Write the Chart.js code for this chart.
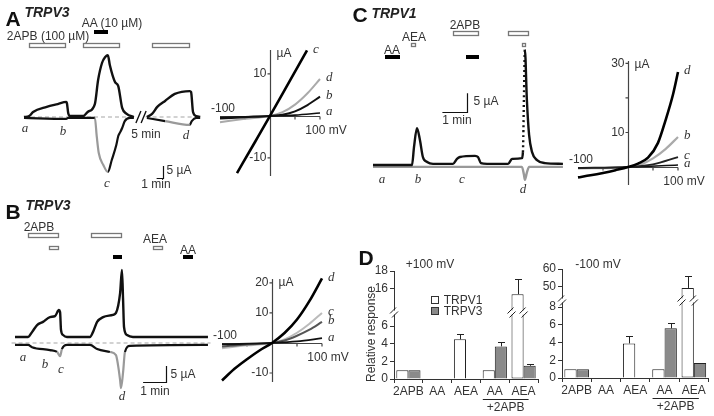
<!DOCTYPE html>
<html>
<head>
<meta charset="utf-8">
<script src="https://cdn.jsdelivr.net/npm/chart.js@4"></script>
<style>
  body { margin: 0; width: 714px; height: 416px; overflow: hidden; position: relative; background: #fff;
         font-family: "Liberation Sans", Arial, sans-serif; color: #333; }
  canvas { position: absolute; }
  .t { position: absolute; white-space: nowrap; transform: translate(-50%, -50%); font-size: 12px; line-height: 1; }
  .L { font-weight: bold; font-size: 21px; color: #111; }
  .n { font-weight: bold; font-style: italic; font-size: 14px; color: #222; }
  .s { font-family: "Liberation Serif", serif; font-style: italic; font-size: 13px; }
</style>
</head>
<body>
<script>
// ---- panel A: TRPV3 trace, [min, µA] at +100 mV (up) and -100 mV (lo)
const traceA_up = [[0,0],[0.8,0.4],[1.4,2.1],[3.5,4.2],[5.2,5.4],[6.5,6.3],[6.6,5.8],[6.8,1.7],[7.1,0.4],[9.1,0.4],[9.8,2.1],[10.9,5.4],[11.4,15.4],[12.0,22.5],[12.5,25.0],[12.9,25.8],[13.2,21.7],[14.0,14.6],[14.5,12.9],[15.1,3.8],[15.8,1.3],[16.9,0],[17.6,null],[18.9,0],[19.7,1.3],[20.5,4.2],[21.7,6.7],[23.2,9.6],[25.5,10.8],[25.7,10.4],[26.0,2.1],[26.5,0.4],[27.1,0]];
const traceA_lo = [[0,-0.4],[6.5,-0.8],[6.8,-0.4],[10.9,-0.4],[11.2,-8.3],[11.5,-15.0],[12.2,-20.0],[12.9,-22.9],[13.5,-17.9],[14.2,-11.7],[14.5,-7.9],[14.8,-6.3],[15.1,-4.6],[15.5,-1.7],[16.3,-0.4],[16.9,-0.4],[17.6,null],[18.9,-0.4],[21.7,-1.7],[25.5,-3.3],[25.8,-1.7],[26.5,-0.4],[27.1,-0.4]];
const zeroA = [[0,0],[17.2,0],[17.6,null],[18.7,0],[27.1,0]];
const a_2apb = [[0.8,6.5],[9.1,14.8],[19.7,25.5]];
const a_aa = [[10.8,12.9]];

// ---- panel B: TRPV3 trace
const traceB_up = [[0,1.9],[0.57,1.9],[0.74,3.4],[0.96,5.6],[1.22,6.6],[1.52,8.1],[1.74,8.4],[1.91,10.3],[1.96,9.7],[2.0,4.1],[2.09,2.5],[2.26,1.9],[3.26,1.9],[3.39,3.4],[3.57,6.6],[3.83,8.1],[4.26,8.8],[4.39,9.4],[4.57,15.6],[4.65,22.8],[4.70,13.4],[4.74,5.0],[4.87,2.5],[5.13,1.9],[8.39,1.9]];
const traceB_lo = [[0,-0.6],[0.57,-0.6],[0.74,-1.3],[1.52,-2.2],[1.83,-2.8],[1.96,-4.1],[2.04,-1.9],[2.26,-0.6],[3.26,-0.6],[3.57,-1.9],[4.13,-2.8],[4.39,-3.8],[4.48,-6.9],[4.57,-11.6],[4.61,-14.1],[4.70,-9.1],[4.78,-2.8],[5.0,-0.9],[8.39,-0.6]];
const zeroB = [[-0.15,0],[8.5,0]];
const b_2apb = [[0.57,1.91],[3.30,4.65]];
const b_aea = [[1.48,1.91],[6.0,6.43]];
const b_aa = [[4.26,4.65],[7.3,7.74]];

// ---- panel C: TRPV1 trace
const traceC_up = [[0,0],[1.58,0],[1.66,4.7],[1.78,9.7],[1.90,6.6],[2.02,2.1],[2.19,0.8],[2.43,0.3],[3.24,0.3],[3.40,1.6],[3.52,2.1],[4.13,2.4],[4.25,2.1],[4.37,0.5],[4.62,0.3],[5.47,0.3],[5.63,1.6],[6.03,1.8],[6.07,3.4],[6.11,17.1],[6.15,30.3],[6.23,17.1],[6.32,7.9],[6.44,3.4],[6.64,1.3],[6.96,0.5],[7.69,0.3]];
const traceC_lo = [[0,-0.5],[6.03,-0.5],[6.11,-2.5],[6.15,-3.9],[6.23,-2.0],[6.32,-0.5],[7.69,-0.5]];
const c_2apb = [[3.24,4.29],[5.47,6.32]];
const c_aea = [[1.54,1.74],[6.03,6.19]];
const c_aa = [[0.49,1.09],[3.77,4.29]];

// ---- I-V curves [mV, µA]
const ivXTicks = [-50, 50, 100];
const ivA_a = [[-100,-0.4],[-50,-0.2],[0,0],[50,0.2],[100,0.7]];
const ivA_b = [[-100,-0.6],[-50,-0.3],[0,0],[25,0.3],[50,1.1],[75,2.6],[100,4.6]];
const ivA_c = [[-66,-13.6],[-30,-6.2],[0,0],[30,6.3],[74,15.6]];
const ivA_d = [[-100,-1.5],[-50,-0.7],[0,0],[25,0.9],[50,2.7],[75,5.4],[100,8.8]];
const ivA_yTicks = [-10, 10];
const ivB_a = [[-100,-0.5],[0,0],[50,0.5],[100,1.6]];
const ivB_b = [[-100,-1.2],[-50,-0.5],[0,0],[25,0.8],[50,2.4],[75,4.4],[100,7]];
const ivB_c = [[-100,-1.8],[-50,-0.8],[0,0],[25,1.2],[50,3.4],[75,6.4],[100,10]];
const ivB_d = [[-100,-12.5],[-75,-8.6],[-50,-5.4],[-25,-2.5],[0,0],[25,3.3],[50,7.8],[75,14],[100,21.5]];
const ivB_yTicks = [-10, 10, 20];
const ivC_a = [[-100,-0.2],[0,0],[100,0.6]];
const ivC_b = [[-100,-0.4],[0,0],[25,0.7],[50,2.5],[75,5.2],[100,8.7]];
const ivC_c = [[-100,-0.3],[0,0],[50,0.8],[100,2.9]];
const ivC_d = [[-100,-3.0],[-75,-2.4],[-50,-1.7],[-25,-0.9],[0,0],[20,1.0],[40,2.7],[60,7],[75,13.5],[90,21],[100,27.5]];
const ivC_yTicks = [10, 20, 30];
const ivC_yLabels = ['10', '', '30'];

// ---- panel D: relative response
const dCats = ['2APB', 'AA', 'AEA', 'AA', 'AEA'];
const v1Pos = [1, 0, 4.5, 1, 15.4];
const v1PosErr = [0, 0, 0.6, 0, 1.7];
const v3Pos = [1, 0, 0, 3.7, 1.5];
const v3PosErr = [0, 0, 0, 0.5, 0.25];
const v1Neg = [1, 0, 3.9, 1, 49];
const v1NegErr = [0, 0, 0.8, 0, 7];
const v3Neg = [1, 0, 0, 5.6, 1.7];
const v3NegErr = [0, 0, 0, 0.6, 0];
const posTicksLo = [0, 2, 4, 6], posTicksHi = [16, 18];
const negTicksLo = [0, 2, 4, 6, 8], negTicksHi = [50, 60];

Chart.defaults.font.family = "'Liberation Sans', Arial, sans-serif";
Chart.defaults.font.size = 12;
Chart.defaults.color = '#333';

const pts = a => a.map(([x, y]) => ({x, y}));
const noUi = {legend: {display: false}, tooltip: {enabled: false}};
const hid = (min, max) => ({type: 'linear', min, max, display: false});

function mk(box, cfg) {
  const c = document.createElement('canvas');
  c.width = box[2]; c.height = box[3];
  c.style.left = box[0] + 'px'; c.style.top = box[1] + 'px';
  document.body.appendChild(c);
  cfg.options = Object.assign({responsive: false, animation: false, events: []}, cfg.options);
  return new Chart(c, cfg);
}

function line(data, color, w, extra) {
  return Object.assign({data: pts(data), borderColor: color, borderWidth: w, pointRadius: 0,
    spanGaps: false, cubicInterpolationMode: 'monotone'}, extra || {});
}

// drug bars, scale bar and axis break on top of a trace
function traceDeco(o) {
  return {
    id: 'deco',
    afterDatasetsDraw(ch) {
      const {ctx, scales: {x, y}} = ch;
      ctx.save();
      for (const b of o.bars) {
        for (const [t0, t1] of b.on) {
          const x0 = Math.round(x.getPixelForValue(t0)), x1 = Math.round(x.getPixelForValue(t1));
          const top = b.top - o.oy;
          if (b.solid) {
            ctx.fillStyle = '#000';
            ctx.fillRect(x0, top, x1 - x0, b.h);
          } else {
            ctx.fillStyle = '#fff';
            ctx.fillRect(x0, top, x1 - x0, b.h);
            ctx.strokeStyle = '#777'; ctx.lineWidth = 1.3;
            ctx.strokeRect(x0 + .5, top + .5, x1 - x0 - 1, b.h - 1);
          }
        }
      }
      const [st, si] = o.scale;
      const px = Math.round(x.getPixelForValue(st)) + .5, py = Math.round(y.getPixelForValue(si)) + .5;
      ctx.strokeStyle = '#111'; ctx.lineWidth = 1.2;
      ctx.beginPath();
      ctx.moveTo(x.getPixelForValue(st - 1), py);
      ctx.lineTo(px, py);
      ctx.lineTo(px, y.getPixelForValue(si + 5));
      ctx.stroke();
      if (o.brk) {
        const yb = y.getPixelForValue(0);
        ctx.lineWidth = 1.4;
        ctx.beginPath();
        o.brk.forEach(t => {
          const xb = x.getPixelForValue(t);
          ctx.moveTo(xb - 2.5, yb + 6); ctx.lineTo(xb + 2.5, yb - 6);
        });
        ctx.stroke();
      }
      ctx.restore();
    }
  };
}

function traceChart(box, xr, yr, sets, deco) {
  deco.oy = box[1];
  return mk(box, {
    type: 'line',
    data: {datasets: sets},
    options: {
      layout: {padding: 0},
      scales: {x: hid(xr[0], xr[1]), y: hid(yr[0], yr[1])},
      plugins: noUi
    },
    plugins: [traceDeco(deco)]
  });
}

// I-V axes crossing at the origin, with curve letters at the right ends
function ivDeco(curves, yTicks, yLabels) {
  return {
    id: 'iv',
    beforeDatasetsDraw(ch) {
      const {ctx, scales: {x, y}} = ch;
      const x0 = Math.round(x.getPixelForValue(0)) + .5, y0 = Math.round(y.getPixelForValue(0)) + .5;
      ctx.save();
      ctx.strokeStyle = '#444'; ctx.lineWidth = 1.2;
      ctx.beginPath();
      ctx.moveTo(x.getPixelForValue(-100), y0); ctx.lineTo(x.getPixelForValue(100), y0);
      ctx.moveTo(x0, y.top); ctx.lineTo(x0, y.bottom);
      ivXTicks.forEach(v => { const p = x.getPixelForValue(v); ctx.moveTo(p, y0); ctx.lineTo(p, y0 + 3); });
      yTicks.forEach(v => { const p = y.getPixelForValue(v); ctx.moveTo(x0 - 3, p); ctx.lineTo(x0, p); });
      ctx.stroke();
      ctx.fillStyle = '#333'; ctx.font = "12px 'Liberation Sans'"; ctx.textBaseline = 'middle';
      ctx.textAlign = 'right';
      yTicks.forEach((v, i) => ctx.fillText(yLabels ? yLabels[i] : String(v), x0 - 4, y.getPixelForValue(v)));
      ctx.textAlign = 'left';
      ctx.fillText('µA', x0 + 6, y.top + 4);
      ctx.textAlign = 'center';
      ctx.fillText('-100', x.getPixelForValue(-100) + 3, y0 - 7.5);
      ctx.fillText('100 mV', x.getPixelForValue(100) + 6, y0 + 14);
      ctx.restore();
    },
    afterDatasetsDraw(ch) {
      const {ctx, scales: {x, y}} = ch;
      ctx.save();
      ctx.fillStyle = '#333'; ctx.font = "italic 13px 'Liberation Serif'";
      ctx.textAlign = 'left'; ctx.textBaseline = 'middle';
      curves.forEach(c => {
        const [lx, ly] = c.d[c.d.length - 1];
        ctx.fillText(c.lab, x.getPixelForValue(lx) + 6, y.getPixelForValue(ly) - 1);
      });
      ctx.restore();
    }
  };
}

function ivChart(box, pad, yr, curves, yTicks, yLabels) {
  return mk(box, {
    type: 'line',
    data: {datasets: curves.map(c => line(c.d, c.color, c.w, {clip: false}))},
    options: {
      layout: {padding: pad},
      scales: {x: hid(-100, 100), y: hid(yr[0], yr[1])},
      plugins: noUi
    },
    plugins: [ivDeco(curves, yTicks, yLabels)]
  });
}

// error bars, axis breaks and the "+2APB" bracket
const barDeco = {
  id: 'bars',
  afterDatasetsDraw(ch) {
    const {ctx, scales: {x, yLo, yHi}} = ch;
    const cap = yLo.max, yb = Math.round(yLo.top) + .5;
    ctx.save();
    ctx.strokeStyle = '#222'; ctx.lineWidth = 1;
    const slash = xc => {
      ctx.fillStyle = '#fff'; ctx.fillRect(xc - 3, yb - 2, 6, 4);
      ctx.beginPath();
      ctx.moveTo(xc - 4, yb + 1); ctx.lineTo(xc + 2, yb - 5);
      ctx.moveTo(xc - 2, yb + 5); ctx.lineTo(xc + 4, yb - 1);
      ctx.stroke();
    };
    slash(ch.chartArea.left);
    ch.data.datasets.forEach((ds, di) => {
      if (!ds.vals) return;
      ch.getDatasetMeta(di).data.forEach((el, i) => {
        const v = ds.vals[i], e = ds.errs[i];
        if (v > cap) { slash(el.x - el.width / 2); slash(el.x + el.width / 2); }
        if (!e) return;
        const axis = v > cap ? yHi : yLo;
        const top = axis.getPixelForValue(v), tip = Math.round(axis.getPixelForValue(v + e)) + .5;
        const cx = Math.round(el.x) + .5;
        ctx.beginPath();
        ctx.moveTo(cx, top); ctx.lineTo(cx, tip);
        ctx.moveTo(cx - 3.5, tip); ctx.lineTo(cx + 3.5, tip);
        ctx.stroke();
      });
    });
    const xa = x.getPixelForValue(3), xb = x.getPixelForValue(4);
    const yl = Math.round(x.bottom) + .5;
    ctx.beginPath(); ctx.moveTo(xa - 12, yl); ctx.lineTo(xb + 5, yl); ctx.stroke();
    ctx.fillStyle = '#333'; ctx.font = "12px 'Liberation Sans'";
    ctx.textAlign = 'center'; ctx.textBaseline = 'middle';
    ctx.fillText('+2APB', (xa - 12 + xb + 5) / 2, yl + 8);
    ctx.restore();
  }
};

function yAxis(range, ticks, weight) {
  return {
    type: 'linear', position: 'left', stack: 'd', stackWeight: weight, min: range[0], max: range[1],
    afterBuildTicks: s => { s.ticks = ticks.map(v => ({value: v})); },
    afterFit: s => { s.width = 24; },
    grid: {drawOnChartArea: false, tickLength: 4, color: '#333'},
    border: {color: '#333'},
    ticks: {padding: 2, color: '#333', autoSkip: false}
  };
}

function barChart(box, pad, v1, e1, v3, e3, lo, hi, tLo, tHi, wLo, wHi) {
  const low = v => v.map(a => a === 0 ? null : Math.min(a, lo[1]));
  const high = v => v.map(a => a > lo[1] ? [hi[0], a] : null);
  const skip = v => c => v[c.dataIndex] > lo[1] ? 'top' : 'start';
  const base = {categoryPercentage: 0.84, barPercentage: 1, borderColor: '#222', borderWidth: 1};
  return mk(box, {
    type: 'bar',
    data: {
      labels: dCats,
      datasets: [
        {...base, data: low(v1), yAxisID: 'yLo', stack: 'v1', backgroundColor: '#fff', borderSkipped: skip(v1), vals: v1, errs: e1},
        {...base, data: high(v1), yAxisID: 'yHi', stack: 'v1', backgroundColor: '#fff'},
        {...base, data: low(v3), yAxisID: 'yLo', stack: 'v3', backgroundColor: '#8a8a8a', borderSkipped: skip(v3), vals: v3, errs: e3},
        {...base, data: high(v3), yAxisID: 'yHi', stack: 'v3', backgroundColor: '#8a8a8a'}
      ]
    },
    options: {
      layout: {padding: pad},
      scales: {
        x: {
          offset: true,
          grid: {offset: true, drawOnChartArea: false, tickLength: 4, color: '#333'},
          border: {color: '#333'},
          ticks: {padding: 1, autoSkip: false, maxRotation: 0, color: '#333'},
          afterFit: s => { s.height = 20; }
        },
        // later stacked axis is placed on top
        yLo: yAxis(lo, tLo, wLo),
        yHi: yAxis(hi, tHi, wHi)
      },
      plugins: noUi
    },
    plugins: [barDeco]
  });
}

// ---- A
traceChart([0, 0, 215, 200], [-3.69, 29.38], [-34.58, 48.75], [
  line(traceA_up, '#111', 2.4),
  line(traceA_lo, '#111', 2.2, {segment: {borderColor: c => (c.p1.parsed.y < c.p0.parsed.y && c.p1.parsed.y < -3) ? '#9a9a9a' : undefined}}),
  line(zeroA, '#c4c4c4', 1.5, {borderDash: [4, 3], cubicInterpolationMode: 'default'})
], {bars: [{on: a_2apb, top: 43, h: 5}, {on: a_aa, top: 30, h: 4, solid: true}], scale: [21.4, -25.4], brk: [17.6, 18.4]});

ivChart([205, 40, 150, 150], {left: 15, right: 35, top: 10, bottom: 14}, [-14.3, 15.7], [
  {d: ivA_c, color: '#000', w: 2.6, lab: 'c'},
  {d: ivA_b, color: '#111', w: 2, lab: 'b'},
  {d: ivA_a, color: '#111', w: 1.6, lab: 'a'},
  {d: ivA_d, color: '#aaa', w: 2, lab: 'd'}
], ivA_yTicks);

// ---- B
traceChart([0, 200, 215, 216], [-0.652, 8.696], [-22.81, 44.69], [
  line(traceB_up, '#111', 2.4),
  line(traceB_lo, '#111', 2.2, {segment: {borderColor: c => (c.p0.parsed.y < -3 || c.p1.parsed.y < -3) ? '#9a9a9a' : undefined}}),
  line(zeroB, '#c4c4c4', 1.5, {borderDash: [4, 3], cubicInterpolationMode: 'default'})
], {bars: [{on: b_2apb, top: 233, h: 5}, {on: b_aea, top: 246, h: 4}, {on: b_aa, top: 255, h: 4, solid: true}], scale: [6.57, -12.2]});

ivChart([205, 265, 155, 130], {left: 17, right: 38, top: 14, bottom: 13}, [-13, 21.3], [
  {d: ivB_d, color: '#000', w: 2.6, lab: 'd'},
  {d: ivB_a, color: '#111', w: 1.8, lab: 'a'},
  {d: ivB_b, color: '#555', w: 2, lab: 'b'},
  {d: ivB_c, color: '#bbb', w: 2, lab: 'c'}
], ivB_yTicks);

// ---- C (fast rising phase of the spike is sampled sparsely -> dotted)
traceChart([360, 0, 210, 200], [-0.526, 7.976], [-9.21, 43.42], [
  line(traceC_up, '#111', 2.4, {segment: {borderDash: c => (c.p1.parsed.y > c.p0.parsed.y && c.p1.parsed.y > 10) ? [2, 3] : undefined}}),
  line(traceC_lo, '#999', 2.4)
], {bars: [{on: c_2apb, top: 31, h: 5}, {on: c_aea, top: 43, h: 4}, {on: c_aa, top: 55, h: 4, solid: true}], scale: [3.81, 13.9]});

ivChart([560, 45, 154, 155], {left: 18, right: 36, top: 16, bottom: 15}, [-5.2, 30.7], [
  {d: ivC_d, color: '#000', w: 2.6, lab: 'd'},
  {d: ivC_c, color: '#222', w: 1.8, lab: 'c'},
  {d: ivC_a, color: '#111', w: 1.6, lab: 'a'},
  {d: ivC_b, color: '#aaa', w: 2.2, lab: 'b'}
], ivC_yTicks, ivC_yLabels);

// ---- D
barChart([350, 258, 190, 158], {left: 20, right: 2, top: 13, bottom: 17},
  v1Pos, v1PosErr, v3Pos, v3PosErr, [0, 7.6], [13.4, 18], posTicksLo, posTicksHi, 67, 41);
barChart([530, 258, 184, 158], {left: 8, right: 5.5, top: 11, bottom: 18},
  v1Neg, v1NegErr, v3Neg, v3NegErr, [0, 8.8], [42, 60], negTicksLo, negTicksHi, 78, 31);

// ---- text annotations
const notes = [
  ['A', 13, 18, 'L'], ['TRPV3', 47, 12, 'n'], ['AA (10 µM)', 112, 23, ''], ['2APB (100 µM)', 48, 36, ''],
  ['a', 25, 127, 's'], ['b', 63, 130, 's'], ['c', 107, 182, 's'], ['d', 186, 134, 's'],
  ['5 min', 146, 134, ''], ['5 µA', 179, 170, ''], ['1 min', 156, 184, ''],
  ['B', 13, 211, 'L'], ['TRPV3', 48, 205, 'n'], ['2APB', 39, 227, ''], ['AEA', 155, 239, ''], ['AA', 188, 250, ''],
  ['a', 23, 356, 's'], ['b', 45, 363, 's'], ['c', 61, 368, 's'], ['d', 122, 395, 's'],
  ['5 µA', 183, 374, ''], ['1 min', 155, 391, ''],
  ['C', 360, 14, 'L'], ['TRPV1', 394, 13, 'n'], ['2APB', 465, 25, ''], ['AEA', 414, 37, ''], ['AA', 392, 50, ''],
  ['5 µA', 486, 101, ''], ['1 min', 457, 120, ''],
  ['a', 382, 178, 's'], ['b', 418, 178, 's'], ['c', 462, 178, 's'], ['d', 523, 188, 's'],
  ['D', 366, 257, 'L'], ['+100 mV', 430, 264, ''], ['-100 mV', 598, 264, ''],
  ['TRPV1', 463, 300, ''], ['TRPV3', 463, 311, '']
];
notes.forEach(([txt, x, y, cls]) => {
  const d = document.createElement('div');
  d.className = 't ' + cls;
  d.textContent = txt;
  d.style.left = x + 'px'; d.style.top = y + 'px';
  document.body.appendChild(d);
});
const rr = document.createElement('div');
rr.className = 't';
rr.textContent = 'Relative response';
rr.style.cssText = 'left:371px;top:334px;transform:translate(-50%,-50%) rotate(-90deg);font-size:12px';
document.body.appendChild(rr);
[['#fff', 300], ['#8a8a8a', 311]].forEach(([bg, y]) => {
  const s = document.createElement('div');
  s.style.cssText = `position:absolute;left:431px;top:${y - 4}px;width:6px;height:6px;border:1px solid #333;background:${bg}`;
  document.body.appendChild(s);
});
</script>
</body>
</html>
